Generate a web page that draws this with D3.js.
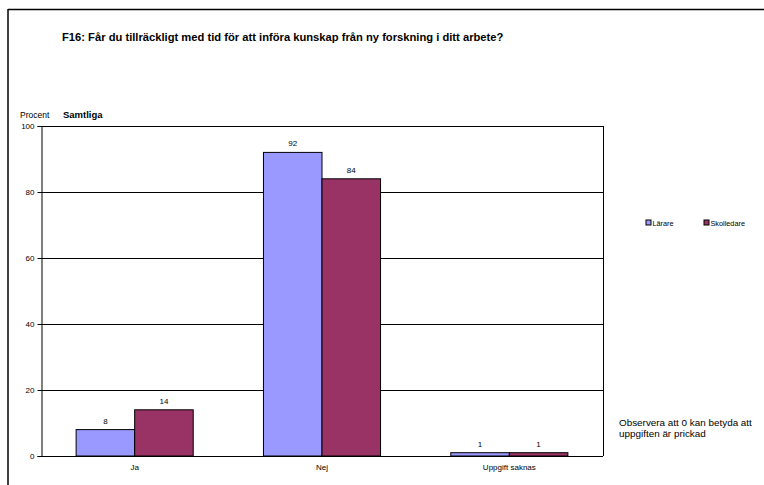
<!DOCTYPE html>
<html>
<head>
<meta charset="utf-8">
<script src="https://cdn.jsdelivr.net/npm/d3@7"></script>
<style>
  html, body { margin: 0; padding: 0; background: #fff; }
  svg { display: block; font-family: "Liberation Sans", Arial, sans-serif; }
</style>
</head>
<body>
<svg id="chart" width="764" height="485"></svg>
<script>
// Answers to question F16, percent per respondent group
const categories = ["Ja", "Nej", "Uppgift saknas"];
const seriesNames = ["Lärare", "Skolledare"];
const larare = [8, 92, 1];
const skolledare = [14, 84, 1];
const yTicks = [0, 20, 40, 60, 80, 100];
const colors = ["#9999FF", "#993366"];

const title = "F16: Får du tillräckligt med tid för att införa kunskap från ny forskning i ditt arbete?";
const note = ["Observera att 0 kan betyda att", "uppgiften är prickad"];

const svg = d3.select("#chart");

// outer frame (top and left edges visible)
svg.append("line").attr("x1", 8).attr("x2", 764).attr("y1", 9.5).attr("y2", 9.5)
  .attr("stroke", "#000").attr("stroke-width", 1.5);
svg.append("line").attr("x1", 8).attr("x2", 8).attr("y1", 9).attr("y2", 485)
  .attr("stroke", "#000").attr("stroke-width", 1.5);

svg.append("text").attr("x", 62).attr("y", 41)
  .attr("font-size", 11.2).attr("font-weight", "bold").text(title);

svg.append("text").attr("x", 20).attr("y", 118).attr("font-size", 8.5).text("Procent");
svg.append("text").attr("x", 63).attr("y", 118).attr("font-size", 9.5)
  .attr("font-weight", "bold").text("Samtliga");

const plot = { left: 41, right: 603, top: 126, bottom: 456 };

const x = d3.scaleBand().domain(categories).range([plot.left, plot.right]);
const xs = d3.scaleBand().domain(seriesNames)
  .range([x.bandwidth() * 0.1875, x.bandwidth() * 0.8125]);
const y = d3.scaleLinear().domain([0, 100]).range([plot.bottom, plot.top]);

// gridlines
svg.append("g").selectAll("line").data(yTicks.filter(d => d > 0)).join("line")
  .attr("x1", plot.left).attr("x2", plot.right)
  .attr("y1", d => Math.round(y(d)) + 0.5).attr("y2", d => Math.round(y(d)) + 0.5)
  .attr("stroke", "#000").attr("stroke-width", 1);

// right border of plot area
svg.append("line").attr("x1", plot.right + 0.5).attr("x2", plot.right + 0.5)
  .attr("y1", plot.top).attr("y2", plot.bottom).attr("stroke", "#000");

// y axis
const yAxis = svg.append("g").attr("transform", `translate(${plot.left + 0.5},0)`)
  .call(d3.axisLeft(y).tickValues(yTicks).tickSize(4).tickPadding(3));
yAxis.select(".domain").attr("stroke", "#000");
yAxis.selectAll("text").attr("font-size", 8).attr("font-family", "Liberation Sans, Arial, sans-serif").attr("fill", "#000");

// bars
const data = categories.map((c, i) => ({ cat: c, vals: [larare[i], skolledare[i]] }));
const groups = svg.append("g").selectAll("g").data(data).join("g")
  .attr("transform", d => `translate(${x(d.cat)},0)`);
groups.selectAll("rect").data(d => d.vals.map((v, j) => ({ s: seriesNames[j], v, j }))).join("rect")
  .attr("x", d => xs(d.s))
  .attr("y", d => y(d.v))
  .attr("width", xs.bandwidth())
  .attr("height", d => y(0) - y(d.v))
  .attr("fill", d => colors[d.j])
  .attr("stroke", "#000").attr("stroke-width", 1);
groups.selectAll("text").data(d => d.vals.map((v, j) => ({ s: seriesNames[j], v, j }))).join("text")
  .attr("x", d => xs(d.s) + xs.bandwidth() / 2)
  .attr("y", d => y(d.v) - 6)
  .attr("text-anchor", "middle").attr("font-size", 8).text(d => d.v);

// x axis
svg.append("line").attr("x1", plot.left).attr("x2", plot.right)
  .attr("y1", plot.bottom + 0.5).attr("y2", plot.bottom + 0.5).attr("stroke", "#000");
svg.append("g").selectAll("text").data(categories).join("text")
  .attr("x", d => x(d) + x.bandwidth() / 2).attr("y", 470)
  .attr("text-anchor", "middle").attr("font-size", 8).text(d => d);

// legend
const legendX = [646, 704];
const lg = svg.append("g").selectAll("g").data(seriesNames).join("g")
  .attr("transform", (d, i) => `translate(${legendX[i]},220)`);
lg.append("rect").attr("width", 5).attr("height", 5)
  .attr("fill", (d, i) => colors[i]).attr("stroke", "#000").attr("stroke-width", 1);
lg.append("text").attr("x", 6.5).attr("y", 5.8).attr("font-size", 7.3).text(d => d);

// note
svg.append("g").selectAll("text").data(note).join("text")
  .attr("x", 619).attr("y", (d, i) => 426 + i * 11).attr("font-size", 9.9).text(d => d);
</script>
</body>
</html>
